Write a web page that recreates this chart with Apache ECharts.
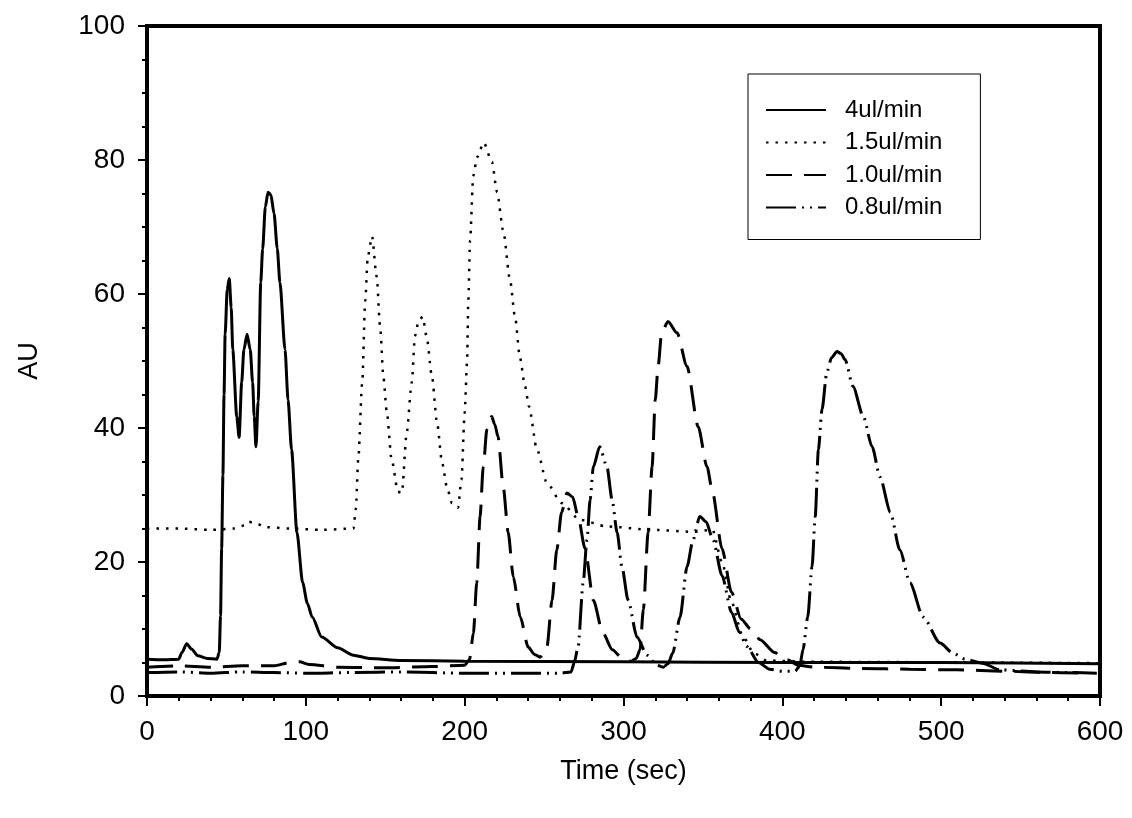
<!DOCTYPE html>
<html>
<head>
<meta charset="utf-8">
<script src="https://cdn.jsdelivr.net/npm/echarts@6/dist/echarts.min.js"></script>
<style>
  html, body { margin: 0; padding: 0; background: #fff; }
  #chart { width: 1132px; height: 818px; }
</style>
</head>
<body>
<div id="chart"></div>
<script>
// x tick labels / axis range
const timeTicks = [0, 100, 200, 300, 400, 500, 600];
const auTicks = [0, 20, 40, 60, 80, 100];

// [time (sec), AU]
const flow4 = [
  [0, 5.5], [10, 5.4], [20, 5.5], [22, 6.5], [25, 7.8], [28, 7.0], [32, 6.0], [38, 5.6],
  [44, 5.5], [45.5, 6.5], [46.3, 12], [47, 22], [47.8, 33], [48.5, 45], [49.2, 54],
  [50.5, 60.7], [51.8, 62.3], [53, 58], [54, 51.7], [56.5, 41.7], [58, 38.6], [59.6, 46.8],
  [61, 51.7], [63, 54], [65, 51.7], [66.5, 46.8], [67.5, 41.7], [68.6, 37.2], [70, 44],
  [71.6, 61.7], [72.8, 66.7], [74.5, 73], [76.2, 75.2], [78, 74.8], [80, 72], [82, 66.8],
  [83.7, 61.7], [86.9, 51.7], [88.8, 44.2], [91, 36.8], [94.4, 24.4], [98, 16.9],
  [101, 13.8], [104, 11.8], [110, 8.8], [120, 7.2], [130, 6.1], [140, 5.6], [160, 5.3],
  [200, 5.2], [300, 5.1], [400, 5.0], [500, 5.0], [600, 4.8]
];

const flow15 = [
  [0, 25], [20, 25], [40, 24.8], [55, 25], [62, 25.5], [64, 26], [68, 25.8], [75, 25.2],
  [90, 25], [110, 24.8], [130, 25], [131.5, 28], [133, 35.3], [135.5, 46.8], [137.4, 59],
  [139, 65.6], [141.7, 68.6], [144.6, 62.6], [146.8, 55], [148.8, 47.7], [151, 42.3],
  [154, 35.3], [158, 30.5], [160.5, 30.3], [163.5, 39.3], [166.7, 46.8], [168.7, 53.7],
  [171, 56], [173.6, 56.6], [176, 53.7], [179.4, 47.7], [182.6, 40.8], [185.8, 34.8],
  [189, 31], [192, 28.8], [195.8, 28.1], [198, 32.3], [200, 42.3], [201.5, 49.8],
  [202.3, 59], [203.4, 68], [205.4, 77.6], [207.8, 80.4], [212, 82.6], [217.2, 79.7],
  [220.4, 75.2], [224.3, 69.4], [228.5, 62.2], [231.7, 56.6], [234.8, 50.5], [238, 46.2],
  [240.5, 43.2], [245.5, 36.8], [251.8, 31.8], [261, 28.8], [272.6, 26.3], [289.6, 25.3],
  [318.6, 24.8], [343.8, 24.5], [356, 24.8], [362, 20], [368, 14], [375, 9], [382, 6.4],
  [390, 5.3], [420, 5.1], [600, 4.9]
];

const flow10 = [
  [0, 4.3], [20, 4.5], [40, 4.3], [60, 4.5], [80, 4.5], [90, 5], [96, 5.1], [102, 4.7],
  [120, 4.3], [150, 4.2], [180, 4.4], [200, 4.6], [203, 5.4], [205.5, 9.4], [207.6, 16.9],
  [209.7, 26.8], [211.7, 34.2], [214, 39.8], [217, 41.7], [219, 40.5], [221, 38.7],
  [224.3, 31.2], [227.4, 24.4], [230.6, 17.8], [235, 11.8], [240, 7.3], [244, 6.2],
  [247.5, 5.8], [250, 6.3], [251.8, 7.3], [255, 14.3], [258, 21.8], [261, 27.4],
  [264.4, 30.3], [268, 29.7], [271.4, 26.8], [275.8, 22], [281, 14.3], [287, 9.4],
  [293, 6.9], [300, 5.4], [305, 5.2], [308, 5.6], [310.4, 6.9], [312.5, 12.9], [315.5, 24.4],
  [318, 34.2], [320, 44.2], [321.8, 49.2], [324, 54.2], [328, 55.9], [333.7, 54.2],
  [340, 49.2], [347, 40.2], [352.6, 34.2], [356, 30.5], [362, 22], [368, 15.5],
  [374, 11.5], [380, 10], [386, 8.4], [395, 6.5], [403, 5.4], [410, 4.6], [420, 4.3],
  [450, 4.1], [480, 4.0], [510, 3.9], [540, 3.7], [570, 3.5], [590, 3.4]
];

const flow08 = [
  [0, 3.5], [20, 3.6], [40, 3.4], [60, 3.6], [80, 3.5], [100, 3.4], [130, 3.5], [160, 3.6],
  [200, 3.4], [230, 3.4], [260, 3.4], [267, 3.6], [269, 5], [271.4, 7.3], [274.6, 16.9],
  [277, 23.3], [279, 29.3], [281, 34.2], [285, 37.2], [289.6, 34.2], [292.8, 29.3],
  [296, 24.4], [299, 19.3], [302.9, 14.3], [308.5, 8.8], [314.8, 6.1], [321, 4.6],
  [325, 4.3], [328, 4.8], [331, 6.4], [335.6, 11.8], [340, 19.3], [343.8, 23.3],
  [348, 26.8], [352, 26], [356.4, 23.3], [362, 18], [368, 12.5], [373, 9.5], [377.6, 7.4],
  [385, 5], [392, 4.0], [400, 3.7], [408, 3.7], [411, 4.5], [413, 6.9], [416, 11.8],
  [418.7, 19.3], [420.7, 26.8], [422.7, 36.8], [425, 42.8], [428, 48.3], [431, 50.5],
  [434.4, 51.4], [437, 51.1], [439.5, 50.2], [444.5, 46.2], [451, 41.7], [456.5, 37.2],
  [461.5, 32.7], [468, 27.4], [474, 21.8], [480.4, 16.9], [488.6, 11.8], [499.3, 7.9],
  [507.5, 6.4], [515, 5.5], [526, 4.9], [537, 3.9], [560, 3.6], [580, 3.5], [598, 3.4]
];

const seriesNames = ["4ul/min", "1.5ul/min", "1.0ul/min", "0.8ul/min"];

const font = "'Liberation Sans', Arial, sans-serif";
const chart = echarts.init(document.getElementById("chart"), null, { renderer: "canvas" });

function line(name, data, type, width) {
  return {
    name,
    type: "line",
    data,
    symbol: "none",
    smooth: 0.25,
    smoothMonotone: "x",
    lineStyle: { color: "#000", width, type },
    itemStyle: { color: "#000" }
  };
}

chart.setOption({
  animation: false,
  backgroundColor: "#fff",
  grid: {
    left: 147, top: 26, right: 32, bottom: 122,
    show: true, borderColor: "#000", borderWidth: 4
  },
  legend: {
    orient: "vertical",
    left: 748,
    top: 74,
    data: seriesNames,
    padding: [24, 38, 20, 17],
    itemGap: 8.5,
    itemWidth: 60,
    itemHeight: 14,
    borderColor: "#000",
    borderWidth: 1,
    itemStyle: { opacity: 0 },
    textStyle: { fontFamily: font, fontSize: 24, color: "#000", padding: [0, 0, 0, 14] }
  },
  xAxis: {
    type: "value",
    min: timeTicks[0],
    max: timeTicks[timeTicks.length - 1],
    interval: 100,
    name: "Time (sec)",
    nameLocation: "middle",
    nameGap: 62,
    nameTextStyle: { fontFamily: font, fontSize: 27, color: "#000" },
    axisLine: { onZero: false, lineStyle: { color: "#000", width: 4 } },
    axisTick: { length: 10, lineStyle: { color: "#000", width: 2 } },
    minorTick: { show: true, splitNumber: 5, length: 5, lineStyle: { color: "#000", width: 2 } },
    splitLine: { show: false },
    axisLabel: { margin: 22, fontFamily: font, fontSize: 28, color: "#000" }
  },
  yAxis: {
    type: "value",
    min: auTicks[0],
    max: auTicks[auTicks.length - 1],
    interval: 20,
    name: "AU",
    nameLocation: "middle",
    nameRotate: 90,
    nameGap: 104,
    nameTextStyle: { fontFamily: font, fontSize: 27, color: "#000" },
    axisLine: { onZero: false, lineStyle: { color: "#000", width: 4 } },
    axisTick: { length: 9, lineStyle: { color: "#000", width: 2 } },
    minorTick: { show: true, splitNumber: 4, length: 5, lineStyle: { color: "#000", width: 2 } },
    splitLine: { show: false },
    axisLabel: { margin: 22, fontFamily: font, fontSize: 28, color: "#000" }
  },
  series: [
    line(seriesNames[0], flow4, "solid", 3),
    line(seriesNames[1], flow15, [2.5, 7], 2.5),
    line(seriesNames[2], flow10, [26, 12], 3),
    line(seriesNames[3], flow08, [30, 6, 2, 6, 2, 6], 3)
  ]
});
</script>
</body>
</html>
